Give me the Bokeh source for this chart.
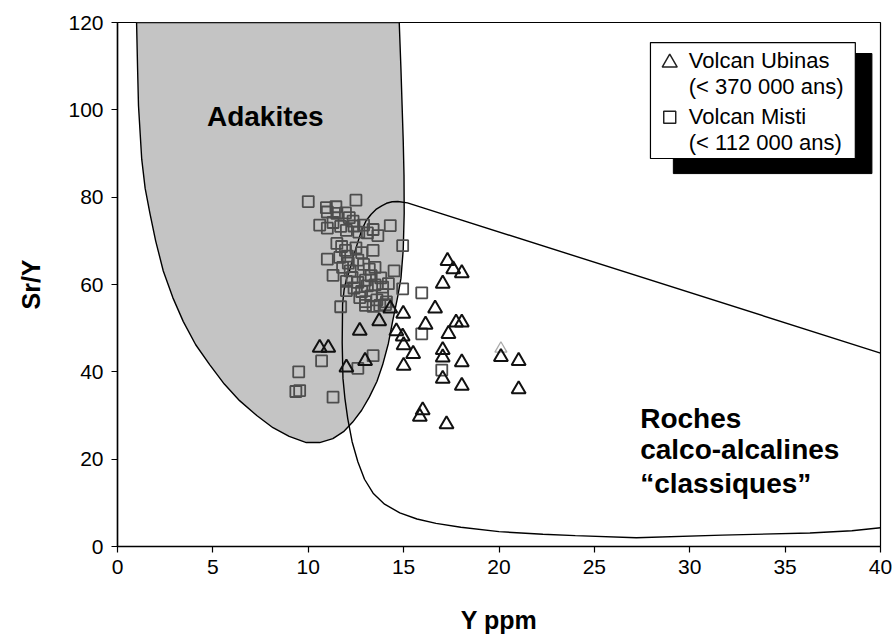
from bokeh.plotting import figure
from bokeh.models import Range1d, FixedTicker
from bokeh.core.properties import value
from bokeh.embed import file_html
from bokeh.resources import INLINE

# ---------------- data ----------------
x_ticks = [0, 5, 10, 15, 20, 25, 30, 35, 40]
y_ticks = [0, 20, 40, 60, 80, 100, 120]

# Volcan Ubinas (triangles): Y ppm, Sr/Y
ubinas_y = [17.3, 17.6, 18.05, 17.05, 16.65, 14.3, 14.98, 13.72, 12.7, 16.15, 17.75, 18.05,
            17.35, 14.62, 14.95, 15.0, 15.5, 15.0, 17.05, 17.05, 17.05, 18.05, 18.05,
            20.1, 21.03, 21.03, 16.0, 15.85, 17.25, 12.98, 12.0, 10.6, 11.05]
ubinas_sr = [65.4, 63.5, 62.6, 60.2, 54.5, 54.5, 53.3, 51.6, 49.4, 50.8, 51.3, 51.3,
             48.7, 49.3, 48.1, 46.1, 44.1, 41.4, 45.0, 43.3, 38.4, 42.2, 36.8,
             43.4, 42.5, 36.0, 31.2, 29.7, 28.0, 42.5, 41.0, 45.5, 45.5]
# one pale grey Ubinas sample
ubinas_pale_y = [20.1]
ubinas_pale_sr = [45.3]

# Volcan Misti (squares): Y ppm, Sr/Y
misti_y = [10.0, 12.5, 10.95, 11.0, 11.45, 11.5, 11.95, 12.15, 12.35, 10.6, 11.0, 11.3,
           11.7, 12.0, 12.4, 12.65, 12.9, 13.1, 13.4, 13.65, 14.3, 11.0, 11.3,
           11.5, 11.75, 11.95, 12.05, 11.65, 12.1, 11.8, 12.2, 12.5, 12.8, 13.4, 12.6,
           12.9, 13.2, 13.5, 14.5, 14.95, 12.3, 12.0, 12.6, 13.0, 13.8, 13.3,
           12.4, 12.8, 13.1, 13.5, 13.9, 14.2, 12.0, 12.7, 13.0, 13.3, 13.6, 13.9,
           14.1, 13.0, 13.4, 13.75, 14.05, 11.7, 14.95, 15.95, 15.95, 13.4, 12.6,
           10.7, 9.5, 9.55, 9.35, 11.3, 17.0]
misti_sr = [79.0, 79.3, 77.6, 76.6, 77.8, 76.3, 76.4, 75.3, 74.5, 73.6, 72.9, 74.2,
            73.3, 72.4, 73.4, 72.0, 73.6, 71.8, 72.6, 71.2, 73.5, 65.8, 62.1,
            69.4, 68.7, 67.8, 66.5, 66.2, 64.9, 63.9, 63.1, 68.4, 67.3, 67.8, 65.6,
            64.6, 63.5, 63.9, 63.1, 68.9, 61.6, 60.7, 60.5, 61.0, 61.5, 62.0,
            59.2, 58.4, 59.7, 59.9, 59.4, 60.2, 58.6, 57.0, 56.1, 57.4, 56.5, 57.7,
            56.0, 55.2, 55.0, 55.2, 55.4, 54.9, 59.0, 58.1, 48.7, 43.7, 40.8,
            42.5, 40.0, 35.7, 35.5, 34.2, 40.4]

# Field boundaries
adakite_x = [1.0, 1.05, 1.1, 1.27, 1.45, 1.7, 2.0, 2.4, 2.9, 3.45, 4.1, 4.84, 5.6, 6.4,
             7.3, 8.15, 9.0, 9.9, 10.6, 11.29, 11.85, 12.33, 12.8, 13.2, 13.6, 13.9,
             14.2, 14.42, 14.68, 14.86, 14.98, 15.03, 15.02, 14.98, 14.92, 14.86, 14.77]
adakite_sr = [120, 110, 101, 88.7, 82, 76.3, 70, 63.1, 57, 51.5, 46.2, 41.6, 37.2, 33.4,
              30.0, 27.2, 25.2, 23.8, 23.8, 24.7, 26.3, 28.5, 31.2, 34.2, 37.8, 41.6,
              46.5, 51.5, 57, 61.4, 68, 76.3, 85, 92.8, 101, 109.3, 120]

calco_x = [40, 38.5, 36.3, 31.7, 27.2, 24.0, 22.3, 20.0, 18.0, 16.7, 15.7, 14.8, 14.0,
           13.4, 12.95, 12.6, 12.3, 12.07, 11.92, 11.82, 11.78, 11.8, 11.88, 12.0,
           12.16, 12.38, 12.6, 12.8, 13.03, 13.3, 13.55, 13.85, 14.1, 14.4, 14.7, 15.2, 40]
calco_sr = [4.3, 3.6, 3.1, 2.6, 2.0, 2.5, 2.8, 3.4, 4.4, 5.3, 6.3, 7.7, 9.7,
            12.2, 15.4, 19.4, 24.0, 29.3, 34.0, 38.5, 46.6, 55.5, 58.8, 61.2,
            63.1, 66.6, 69.7, 72.4, 74.6, 76.1, 77.2, 78.0, 78.6, 78.95, 79.0, 78.7, 44.3]

# Labels
x_title = "Y ppm"
y_title = "Sr/Y"
adakite_label = ["Adakites"]
adakite_label_x = [7.75]
adakite_label_sr = [98.5]
calco_label = ["Roches", "calco-alcalines", "\u201cclassiques\u201d"]
calco_label_x = [27.4, 27.4, 27.4]
calco_label_sr = [29.4, 22.1, 14.4]

legend_labels = ["Volcan Ubinas", "(< 370 000 ans)", "Volcan Misti", "(< 112 000 ans)"]
legend_label_x = [29.95, 29.95, 29.95, 29.95]
legend_label_sr = [111.3, 105.3, 98.5, 92.5]
legend_marker_x = [28.95]
legend_tri_sr = [110.8]
legend_sq_sr = [98.3]
legend_box = dict(left=27.94, right=38.68, top=115.4, bottom=88.85)
legend_shadow = dict(left=29.14, right=39.55, top=112.9, bottom=85.4)

FONT = "Liberation Sans"

p = figure(width=893, height=643, output_backend="svg", toolbar_location=None,
           x_range=Range1d(0, 40), y_range=Range1d(0, 120),
           min_border_left=117, min_border_right=13, min_border_top=22,
           min_border_bottom=97, background_fill_color="white",
           border_fill_color="white")

p.grid.visible = False
p.outline_line_color = "black"
p.outline_line_width = 1.2

for ax, ticks in ((p.xaxis, x_ticks), (p.yaxis, y_ticks)):
    ax.ticker = FixedTicker(ticks=ticks)
    ax.minor_tick_line_color = None
    ax.major_tick_in = 0
    ax.major_tick_out = 6
    ax.major_tick_line_color = "black"
    ax.major_tick_line_width = 1.2
    ax.axis_line_color = "black"
    ax.axis_line_width = 1.5
    ax.major_label_text_font = FONT
    ax.major_label_text_font_size = "21px"
    ax.major_label_text_color = "black"
    ax.axis_label_text_font = FONT
    ax.axis_label_text_font_size = "25px"
    ax.axis_label_text_font_style = "bold"
    ax.axis_label_text_color = "black"

p.xaxis.axis_label = x_title
p.yaxis.axis_label = y_title
p.xaxis.major_label_standoff = 7
p.xaxis.axis_label_standoff = 29
p.yaxis.major_label_standoff = 8
p.yaxis.axis_label_standoff = 20

# Adakite field
p.patch(adakite_x, adakite_sr, fill_color="#c4c4c4", line_color="black", line_width=1.4)
# Calc-alkaline field
p.line(calco_x, calco_sr, line_color="black", line_width=1.4)

# data points
p.scatter(misti_y, misti_sr, marker="square", size=11, fill_alpha=0,
          line_color="#4d4d4d", line_width=1.8)
p.scatter(ubinas_pale_y, ubinas_pale_sr, marker="triangle", size=12, fill_alpha=0,
          line_color="#aaaaaa", line_width=1.3)
p.scatter(ubinas_y, ubinas_sr, marker="triangle", size=14, fill_alpha=0,
          line_color="#111111", line_width=2)

# field labels
p.text(x=adakite_label_x, y=adakite_label_sr, text=adakite_label,
       text_font=value(FONT), text_font_size=value("28px"), text_font_style="bold",
       text_align="center", text_baseline="middle", text_color="black")
p.text(x=calco_label_x, y=calco_label_sr, text=calco_label,
       text_font=value(FONT), text_font_size=value("28px"), text_font_style="bold",
       text_align="left", text_baseline="middle", text_color="black")

# legend with drop shadow
p.quad(**legend_shadow, fill_color="black", line_color="black")
p.quad(**legend_box, fill_color="white", line_color="black", line_width=1.2)
p.scatter(legend_marker_x, legend_tri_sr, marker="triangle", size=15, fill_alpha=0,
          line_color="#222222", line_width=1.5)
p.scatter(legend_marker_x, legend_sq_sr, marker="square", size=12, fill_alpha=0,
          line_color="#222222", line_width=1.5)
p.text(x=legend_label_x, y=legend_label_sr, text=legend_labels,
       text_font=value(FONT), text_font_size=value("22px"),
       text_align="left", text_baseline="middle", text_color="black")

open("out.html", "w").write(file_html(p, INLINE))
